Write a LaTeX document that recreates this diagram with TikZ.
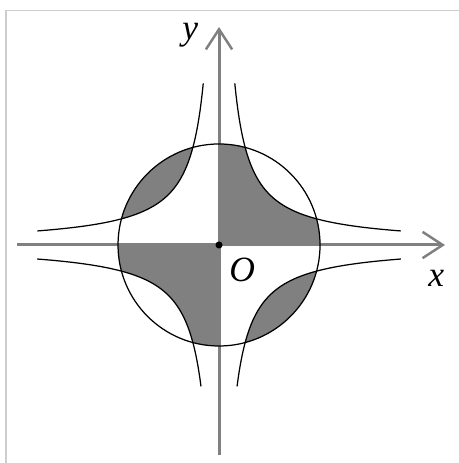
\documentclass[tikz,border=0pt]{standalone}
\usepackage{fontspec}
\setmainfont{Liberation Serif}
\usetikzlibrary{arrows.meta}
\definecolor{AxGray}{RGB}{128,128,128}
\definecolor{ShGray}{RGB}{128,128,128}
\definecolor{FrGray}{RGB}{205,205,205}

\begin{document}
\begin{tikzpicture}[
          axis/.style={draw=AxGray, line width=1.7pt,
                       -{Straight Barb[length=0.4cm, width=0.52cm, line width=1.4pt]}},
          curve/.style={draw=black, line width=0.7pt},
          shade/.style={fill=ShGray, draw=none},
          lbl/.style={font=\fontsize{20}{22}\selectfont\itshape, inner sep=0pt}
        ]
        \useasboundingbox (-4.337,-4.317) rectangle (4.733,4.851);
        \draw[FrGray, line width=0.6pt] (-4.218,-4.5) -- (-4.218,4.634) -- (4.9,4.634);

        % shaded parts inside the circle
        \begin{scope}
          \clip (0,0) circle (2);
          \fill[shade] (0,0) -- (0,3.2)
               -- plot[domain=-1.163:1.281, samples=80] ({exp(\x)},{exp(-\x)})
               -- (3.6,0) -- cycle;
          \fill[shade] (0,0) -- (0,-3.2)
               -- plot[domain=-1.163:1.281, samples=80] ({-exp(\x)},{-exp(-\x)})
               -- (-3.6,0) -- cycle;
          \fill[shade] plot[domain=-1.163:1.281, samples=80] ({-exp(\x)},{exp(-\x)})
               -- (-3.6,3.6) -- cycle;
          \fill[shade] plot[domain=-1.163:1.281, samples=80] ({exp(\x)},{-exp(-\x)})
               -- (3.6,-3.6) -- cycle;
        \end{scope}

        % axes
        \draw[axis] (-4.0,0) -- (4.475,0);
        \draw[axis] (0,-4.16) -- (0,4.317);

        % circle and hyperbolas
        \draw[curve] (0,0) circle (2);
        \draw[curve] plot[domain=-1.163:1.281, samples=80] ({exp(\x)},{exp(-\x)});
        \draw[curve] plot[domain=-1.163:1.281, samples=80] ({-exp(\x)},{exp(-\x)});
        \draw[curve] plot[domain=-1.03:1.281, samples=80] ({-exp(\x)},{-exp(-\x)});
        \draw[curve] plot[domain=-1.03:1.281, samples=80] ({exp(\x)},{-exp(-\x)});

        \fill (0,0) circle (0.07);

        \node[lbl] (ylab) at (-0.57,4.16) {y};
        \node[lbl] (xlab) at (4.30,-0.66) {x};
        \node[lbl] (olab) at (0.46,-0.50) {O};
      \end{tikzpicture}
\end{document}
